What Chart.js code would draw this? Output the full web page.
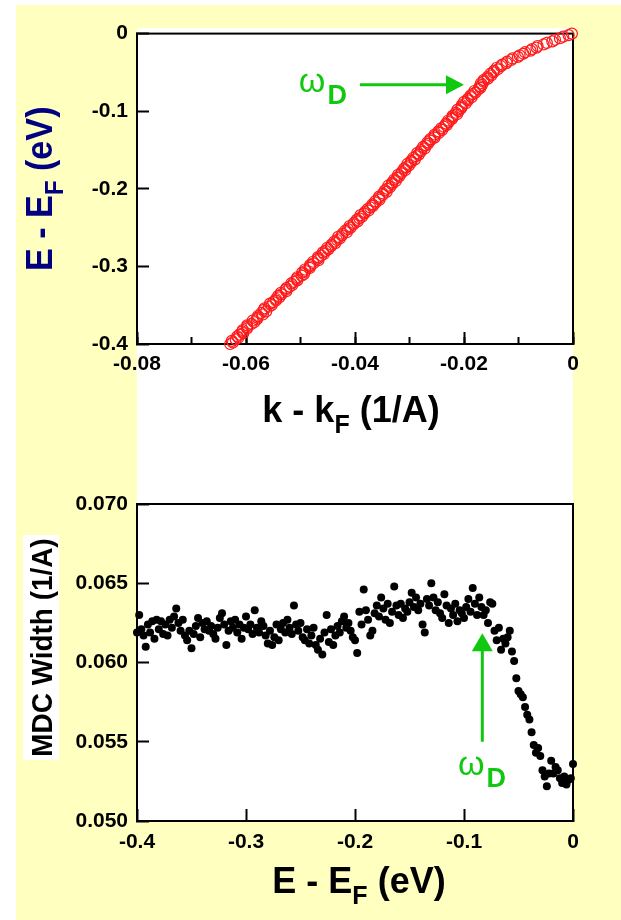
<!DOCTYPE html>
<html>
<head>
<meta charset="utf-8">
<script src="https://cdn.jsdelivr.net/npm/chart.js@4.4.1/dist/chart.umd.min.js"></script>
<style>
  html, body { margin: 0; padding: 0; background: #ffffff; }
  #page { position: relative; width: 621px; height: 920px; overflow: hidden; }
  #paper { position: absolute; left: 16px; top: 5px; width: 605px; height: 915px; background: #ffffc0; }
  #panel { position: absolute; left: 137px; top: 28px; width: 436px; height: 793px; background: #ffffff; }
  canvas { position: absolute; left: 0; }
  #dispersion { top: 0; }
  #mdc { top: 460px; }
</style>
</head>
<body>
<div id="page">
  <div id="paper"></div>
  <div id="panel"></div>
  <canvas id="dispersion" width="621" height="460"></canvas>
  <canvas id="mdc" width="621" height="460"></canvas>
</div>
<script>
// Binding energy grid shared by both panels (meV)
const energyMeV = [
  -400,-398,-396,-394,-392,-390,-388,-386,-384,-382,-380,-378,-376,-374,-372,-370,-368,-366,-364,-362,
  -360,-358,-356,-354,-352,-350,-348,-346,-344,-342,-340,-338,-336,-334,-332,-330,-328,-326,-324,-322,
  -320,-318,-316,-314,-312,-310,-308,-306,-304,-302,-300,-298,-296,-294,-292,-290,-288,-286,-284,-282,
  -280,-278,-276,-274,-272,-270,-268,-266,-264,-262,-260,-258,-256,-254,-252,-250,-248,-246,-244,-242,
  -240,-238,-236,-234,-232,-230,-228,-226,-224,-222,-220,-218,-216,-214,-212,-210,-208,-206,-204,-202,
  -200,-198,-196,-194,-192,-190,-188,-186,-184,-182,-180,-178,-176,-174,-172,-170,-168,-166,-164,-162,
  -160,-158,-156,-154,-152,-150,-148,-146,-144,-142,-140,-138,-136,-134,-132,-130,-128,-126,-124,-122,
  -120,-118,-116,-114,-112,-110,-108,-106,-104,-102,-100,-98,-96,-94,-92,-90,-88,-86,-84,-82,
  -80,-78,-76,-74,-72,-70,-68,-66,-64,-62,-60,-58,-56,-54,-52,-50,-48,-46,-44,-42,
  -40,-38,-36,-34,-32,-30,-28,-26,-24,-22,-20,-18,-16,-14,-12,-10,-8,-6,-4,-2,
  0
];

// MDC peak position k - kF (1/A) at each energy
const momentum = [
  -0.0629,-0.0624,-0.0626,-0.0619,-0.0614,-0.0616,-0.0612,-0.0605,-0.0607,-0.0606,
  -0.0598,-0.0598,-0.0598,-0.0590,-0.0585,-0.0588,-0.0580,-0.0579,-0.0578,-0.0569,
  -0.0572,-0.0563,-0.0567,-0.0566,-0.0558,-0.0553,-0.0556,-0.0550,-0.0545,-0.0545,
  -0.0539,-0.0541,-0.0535,-0.0536,-0.0526,-0.0527,-0.0526,-0.0520,-0.0515,-0.0517,
  -0.0512,-0.0506,-0.0507,-0.0506,-0.0498,-0.0494,-0.0497,-0.0491,-0.0492,-0.0483,
  -0.0483,-0.0482,-0.0476,-0.0477,-0.0467,-0.0468,-0.0468,-0.0462,-0.0457,-0.0459,
  -0.0454,-0.0449,-0.0451,-0.0444,-0.0443,-0.0436,-0.0438,-0.0433,-0.0428,-0.0431,
  -0.0424,-0.0423,-0.0415,-0.0418,-0.0413,-0.0408,-0.0410,-0.0403,-0.0402,-0.0395,
  -0.0397,-0.0392,-0.0387,-0.0390,-0.0383,-0.0382,-0.0375,-0.0377,-0.0372,-0.0367,
  -0.0368,-0.0362,-0.0363,-0.0355,-0.0356,-0.0356,-0.0349,-0.0349,-0.0342,-0.0345,
  -0.0341,-0.0336,-0.0339,-0.0332,-0.0332,-0.0325,-0.0328,-0.0323,-0.0319,-0.0321,
  -0.0315,-0.0314,-0.0308,-0.0310,-0.0306,-0.0301,-0.0304,-0.0297,-0.0297,-0.0290,
  -0.0293,-0.0288,-0.0283,-0.0286,-0.0279,-0.0279,-0.0272,-0.0275,-0.0270,-0.0266,
  -0.0267,-0.0262,-0.0262,-0.0254,-0.0254,-0.0254,-0.0246,-0.0247,-0.0240,-0.0242,
  -0.0237,-0.0232,-0.0233,-0.0228,-0.0229,-0.0222,-0.0221,-0.0221,-0.0213,-0.0215,
  -0.0210,-0.0212,-0.0205,-0.0204,-0.0204,-0.0197,-0.0200,-0.0193,-0.0193,-0.0186,
  -0.0188,-0.0184,-0.0179,-0.0181,-0.0174,-0.0170,-0.0171,-0.0167,-0.0169,-0.0164,
  -0.0164,-0.0156,-0.0157,-0.0150,-0.0152,-0.0146,-0.0145,-0.0138,-0.0140,-0.0132,
  -0.0130,-0.0122,-0.0121,-0.0113,-0.0111,-0.0101,-0.0098,-0.0091,-0.0088,-0.0078,
  -0.0075,-0.0067,-0.0065,-0.0054,-0.0048,-0.0038,-0.0033,-0.0024,-0.0018,-0.0008,
  -0.0002
];

// MDC width (1/A) at each energy
const mdcWidth = [
  0.0619,0.0630,0.0621,0.0617,0.0610,0.0624,0.0619,0.0626,0.0615,0.0627,
  0.0621,0.0626,0.0618,0.0624,0.0617,0.0627,0.0622,0.0629,0.0634,0.0625,
  0.0620,0.0627,0.0617,0.0614,0.0620,0.0609,0.0618,0.0623,0.0628,0.0616,
  0.0625,0.0621,0.0626,0.0620,0.0623,0.0618,0.0615,0.0622,0.0628,0.0631,
  0.0624,0.0611,0.0620,0.0626,0.0622,0.0627,0.0619,0.0624,0.0615,0.0622,
  0.0629,0.0621,0.0624,0.0618,0.0633,0.0622,0.0619,0.0626,0.0623,0.0617,
  0.0612,0.0620,0.0611,0.0616,0.0624,0.0614,0.0621,0.0625,0.0619,0.0627,
  0.0622,0.0618,0.0636,0.0624,0.0620,0.0625,0.0616,0.0614,0.0621,0.0612,
  0.0617,0.0622,0.0611,0.0608,0.0615,0.0605,0.0619,0.0630,0.0613,0.0621,
  0.0611,0.0617,0.0623,0.0619,0.0626,0.0629,0.0622,0.0625,0.0620,0.0616,
  0.0614,0.0606,0.0632,0.0624,0.0646,0.0633,0.0627,0.0617,0.0620,0.0631,
  0.0636,0.0629,0.0641,0.0634,0.0627,0.0637,0.0625,0.0632,0.0648,0.0636,
  0.0630,0.0637,0.0628,0.0634,0.0632,0.0638,0.0644,0.0635,0.0641,0.0633,
  0.0637,0.0624,0.0619,0.0640,0.0636,0.0650,0.0641,0.0633,0.0638,0.0631,
  0.0628,0.0643,0.0636,0.0625,0.0634,0.0630,0.0637,0.0626,0.0633,0.0631,
  0.0628,0.0635,0.0640,0.0632,0.0647,0.0637,0.0630,0.0641,0.0635,0.0630,
  0.0633,0.0625,0.0638,0.0637,0.0620,0.0614,0.0622,0.0608,0.0615,0.0612,
  0.0616,0.0620,0.0607,0.0601,0.0590,0.0582,0.0580,0.0578,0.0572,0.0567,
  0.0564,0.0556,0.0548,0.0543,0.0546,0.0541,0.0532,0.0528,0.0522,0.0530,
  0.0538,0.0530,0.0534,0.0532,0.0527,0.0524,0.0528,0.0523,0.0526,0.0527,
  0.0536
];

// Axis ranges and tick steps
const kRange = [-0.08, 0];      const kStep = 0.02;  const kMinorStep = 0.01;
const eRange = [-0.4, 0];       const eStep = 0.1;
const wRange = [0.050, 0.070];  const wStep = 0.005;

const FONT = "'Liberation Sans', Arial, Helvetica, sans-serif";
const GREEN = '#10c810';
const NAVY = '#000080';
const tickFont = { family: FONT, size: 21, weight: 'bold' };

function fmt(v, digits) {
  return Math.abs(v) < 1e-9 ? '0' : v.toFixed(digits);
}

// Draws a run of text pieces (used for subscripts) starting at x, baseline y
function drawRuns(ctx, runs, x, y, align) {
  let total = 0;
  runs.forEach(r => { ctx.font = r.font; total += ctx.measureText(r.text).width; });
  let cx = align === 'center' ? x - total / 2 : x;
  ctx.textAlign = 'left';
  ctx.textBaseline = 'alphabetic';
  runs.forEach(r => {
    ctx.font = r.font;
    ctx.fillText(r.text, cx, y + (r.dy || 0));
    cx += ctx.measureText(r.text).width;
  });
}

function titleRuns(a, sub, b) {
  return [
    { text: a, font: `bold 36px ${FONT}` },
    { text: sub, font: `bold 25px ${FONT}`, dy: 11 },
    { text: b, font: `bold 36px ${FONT}` }
  ];
}

function omegaD(ctx, x, y) {
  ctx.fillStyle = GREEN;
  ctx.textAlign = 'left';
  ctx.textBaseline = 'alphabetic';
  ctx.font = `34px ${FONT}`;
  ctx.fillText('\u03c9', x, y);
  const w = ctx.measureText('\u03c9').width;
  ctx.font = `bold 27px ${FONT}`;
  ctx.fillText('D', x + w + 2, y + 12);
}

// Closed box around the plotting area
const framePlugin = {
  id: 'frame',
  beforeDatasetsDraw(chart) {
    const { ctx, chartArea: a } = chart;
    ctx.save();
    ctx.strokeStyle = '#000';
    ctx.lineWidth = 2;
    ctx.strokeRect(a.left, a.top, a.right - a.left, a.bottom - a.top);
    ctx.restore();
  }
};

const dispersionLabels = {
  id: 'dispersionLabels',
  afterDraw(chart) {
    const { ctx, chartArea: a, scales } = chart;
    ctx.save();
    // x title
    ctx.fillStyle = '#000';
    drawRuns(ctx, titleRuns('k - k', 'F', ' (1/A)'), (a.left + a.right) / 2 - 4, a.bottom + 78, 'center');
    // y title, rotated
    ctx.save();
    ctx.translate(52, (a.top + a.bottom) / 2);
    ctx.rotate(-Math.PI / 2);
    ctx.scale(0.95, 1);
    ctx.fillStyle = NAVY;
    drawRuns(ctx, titleRuns('E - E', 'F', ' (eV)'), 0, 0, 'center');
    ctx.restore();
    // kink marker
    const ay = scales.y.getPixelForValue(-0.0658);
    const x0 = scales.x.getPixelForValue(-0.0391);
    const x1 = scales.x.getPixelForValue(-0.0200);
    ctx.strokeStyle = GREEN;
    ctx.fillStyle = GREEN;
    ctx.lineWidth = 3;
    ctx.beginPath();
    ctx.moveTo(x0, ay);
    ctx.lineTo(x1 - 16, ay);
    ctx.stroke();
    ctx.beginPath();
    ctx.moveTo(x1, ay);
    ctx.lineTo(x1 - 18, ay - 9.5);
    ctx.lineTo(x1 - 18, ay + 9.5);
    ctx.closePath();
    ctx.fill();
    omegaD(ctx, scales.x.getPixelForValue(-0.0503), scales.y.getPixelForValue(-0.0759));
    ctx.restore();
  }
};

const mdcLabels = {
  id: 'mdcLabels',
  afterDraw(chart) {
    const { ctx, chartArea: a, scales } = chart;
    ctx.save();
    // y title on a white strip
    ctx.fillStyle = '#fff';
    ctx.fillRect(23, 75, 36, 225);
    ctx.save();
    ctx.translate(52, 187.5);
    ctx.rotate(-Math.PI / 2);
    ctx.scale(0.93, 1);
    ctx.fillStyle = '#000';
    ctx.font = `bold 30px ${FONT}`;
    ctx.textAlign = 'center';
    ctx.textBaseline = 'alphabetic';
    ctx.fillText('MDC Width (1/A)', 0, 0);
    ctx.restore();
    // x title
    ctx.fillStyle = '#000';
    drawRuns(ctx, titleRuns('E - E', 'F', ' (eV)'), (a.left + a.right) / 2 + 4, a.bottom + 72, 'center');
    // kink marker
    const ax = scales.x.getPixelForValue(-0.0832);
    const tip = scales.y.getPixelForValue(0.06184);
    const tail = scales.y.getPixelForValue(0.0550);
    ctx.strokeStyle = GREEN;
    ctx.fillStyle = GREEN;
    ctx.lineWidth = 3;
    ctx.beginPath();
    ctx.moveTo(ax, tail);
    ctx.lineTo(ax, tip + 16);
    ctx.stroke();
    ctx.beginPath();
    ctx.moveTo(ax, tip);
    ctx.lineTo(ax - 10.5, tip + 18);
    ctx.lineTo(ax + 10.5, tip + 18);
    ctx.closePath();
    ctx.fill();
    omegaD(ctx, scales.x.getPixelForValue(-0.1055), scales.y.getPixelForValue(0.0529));
    ctx.restore();
  }
};

function axisGrid(len) {
  return { drawOnChartArea: false, drawTicks: true, tickLength: len, tickWidth: 2, tickColor: '#000' };
}
const axisBorder = { display: true, color: '#000', width: 2 };

const common = {
  responsive: false,
  animation: false,
  devicePixelRatio: 1,
  events: [],
  plugins: { legend: { display: false }, tooltip: { enabled: false }, title: { display: false } }
};

new Chart(document.getElementById('dispersion'), {
  type: 'scatter',
  data: {
    datasets: [{
      data: energyMeV.map((e, i) => ({ x: momentum[i], y: e / 1000 })),
      pointStyle: 'circle',
      pointRadius: 5.5,
      pointBorderWidth: 1.2,
      pointBorderColor: '#ff1a1a',
      pointBackgroundColor: 'rgba(0,0,0,0)',
      showLine: false,
      clip: false
    }]
  },
  options: Object.assign({}, common, {
    layout: { padding: { top: 28, right: 48, left: 0, bottom: 0 } },
    scales: {
      x: {
        type: 'linear', position: 'bottom', min: kRange[0], max: kRange[1],
        afterFit(s) { s.height = 116; },
        ticks: { stepSize: kStep, autoSkip: false, maxRotation: 0, font: tickFont, color: '#000', padding: 20,
                 callback: v => fmt(v, 2) },
        grid: axisGrid(-12),
        border: axisBorder
      },
      xMinor: {
        type: 'linear', position: 'bottom', weight: -1, min: kRange[0], max: kRange[1],
        afterFit(s) { s.height = 0; },
        ticks: { stepSize: kMinorStep, display: false, autoSkip: false },
        grid: axisGrid(-7),
        border: { display: false }
      },
      y: {
        type: 'linear', position: 'left', min: eRange[0], max: eRange[1],
        afterFit(s) { s.width = 137; },
        ticks: { stepSize: eStep, autoSkip: false, font: tickFont, color: '#000', padding: 21,
                 callback: v => fmt(v, 1) },
        grid: axisGrid(-12),
        border: axisBorder
      }
    }
  }),
  plugins: [framePlugin, dispersionLabels]
});

new Chart(document.getElementById('mdc'), {
  type: 'scatter',
  data: {
    datasets: [{
      data: energyMeV.map((e, i) => ({ x: e / 1000, y: mdcWidth[i] })),
      pointStyle: 'circle',
      pointRadius: 4,
      pointBorderWidth: 0,
      pointBackgroundColor: '#000',
      showLine: false,
      clip: false
    }]
  },
  options: Object.assign({}, common, {
    layout: { padding: { top: 44, right: 48, left: 0, bottom: 0 } },
    scales: {
      x: {
        type: 'linear', position: 'bottom', min: eRange[0], max: eRange[1],
        afterFit(s) { s.height = 99; },
        ticks: { stepSize: eStep, autoSkip: false, maxRotation: 0, font: tickFont, color: '#000', padding: 21,
                 callback: v => fmt(v, 1) },
        grid: axisGrid(-12),
        border: axisBorder
      },
      y: {
        type: 'linear', position: 'left', min: wRange[0], max: wRange[1],
        afterFit(s) { s.width = 137; },
        ticks: { stepSize: wStep, autoSkip: false, font: tickFont, color: '#000', padding: 21,
                 callback: v => v.toFixed(3) },
        grid: axisGrid(-12),
        border: axisBorder
      }
    }
  }),
  plugins: [framePlugin, mdcLabels]
});
</script>
</body>
</html>
